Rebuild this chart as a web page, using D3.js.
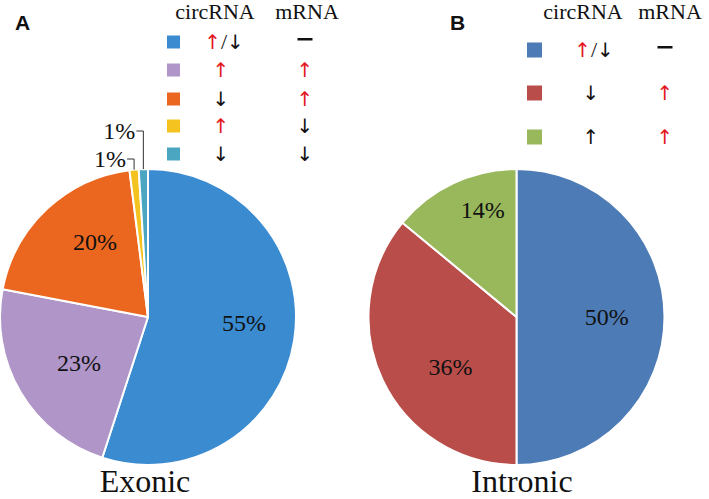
<!DOCTYPE html>
<html><head><meta charset="utf-8">
<script src="https://cdn.jsdelivr.net/npm/d3@7"></script>
<style>
html,body{margin:0;padding:0;background:#fff;}
svg{display:block;}
.serif{font-family:"Liberation Serif","Times New Roman",Times,"DejaVu Serif",serif;}
.arrow{font-family:"DejaVu Sans","Liberation Sans",sans-serif;}
.sans{font-family:"Liberation Sans",Arial,Helvetica,sans-serif;}
</style></head>
<body>
<svg id="chart" width="709" height="499"></svg>
<script>
// ---- data ----
const exonicLabels = ["55%", "23%", "20%", "1%", "1%"];
const exonicValues = [55, 23, 20, 1, 1];
const exonicCirc = [["up","/","down"], ["up"], ["down"], ["up"], ["down"]];
const exonicMrna = ["dash", "up", "up", "down", "down"];

const intronicLabels = ["50%", "36%", "14%"];
const intronicValues = [50, 36, 14];
const intronicCirc = [["up","/","down"], ["down"], ["upblack"]];
const intronicMrna = ["dash", "up", "up"];

const panelTitles = ["Exonic", "Intronic"];
const panelLetters = ["A", "B"];
const legendHeaders = ["circRNA", "mRNA"];

// ---- styles / layout ----
const exonicColors = ["#3a8bd0", "#b095c8", "#eb671f", "#f5c31f", "#4aa6c1"];
const intronicColors = ["#4d7bb5", "#b94d4a", "#99b75b"];
const RED = "#e3161e";

const panels = [
  { cx: 148, cy: 317, r: 148, values: exonicValues, labels: exonicLabels, colors: exonicColors,
    circ: exonicCirc, mrna: exonicMrna, title: panelTitles[0], letter: panelLetters[0],
    letterX: 15, titleX: 145,
    labelPlace: [[-5.5, 0.65], [-3, 0.56], [8, 0.62], {outY: 159}, {outY: 131}],
    legend: { sqX: 167, sqSize: 13, rows: [42, 70, 99, 126, 154], col1: 221, col2: 305, hdr1: 215, hdr2: 307 } },
  { cx: 516.5, cy: 317, r: 148, values: intronicValues, labels: intronicLabels, colors: intronicColors,
    circ: intronicCirc, mrna: intronicMrna, title: panelTitles[1], letter: panelLetters[1],
    letterX: 450, titleX: 522,
    labelPlace: [[0, 0.61], [-12, 0.56], [7.7, 0.76]],
    legend: { sqX: 527, sqSize: 15, rows: [50, 93, 137], col1: 591, col2: 665, hdr1: 583, hdr2: 670 } }
];

const svg = d3.select("#chart");

panels.forEach(p => {
  const g = svg.append("g").attr("transform", `translate(${p.cx},${p.cy})`);
  const pie = d3.pie().sort(null).value(d => d)(p.values);
  const arc = d3.arc().innerRadius(0).outerRadius(p.r);
  g.selectAll("path.slice").data(pie).join("path")
    .attr("class", "slice")
    .attr("d", arc)
    .attr("fill", (d, i) => p.colors[i])
    .attr("stroke", "#fff").attr("stroke-width", 2).attr("stroke-linejoin", "round");

  pie.forEach((d, i) => {
    const lp = p.labelPlace[i];
    const mid = (d.startAngle + d.endAngle) / 2;
    if (Array.isArray(lp)) {
      const a = mid + lp[0] * Math.PI / 180;
      const rr = p.r * lp[1];
      g.append("text").attr("class", "serif")
        .attr("x", rr * Math.sin(a)).attr("y", -rr * Math.cos(a))
        .attr("dy", "0.33em").attr("text-anchor", "middle")
        .style("font-size", "24px").attr("fill", "#111")
        .text(p.labels[i]);
    } else {
      const ex = p.r * Math.sin(mid), ey = -p.r * Math.cos(mid);
      const ly = lp.outY - p.cy;
      g.append("path")
        .attr("d", `M${ex},${ey}L${ex},${ly}L${ex - 7},${ly}`)
        .attr("fill", "none").attr("stroke", "#333").attr("stroke-width", 1);
      g.append("text").attr("class", "serif")
        .attr("x", ex - 8).attr("y", ly).attr("dy", "0.33em")
        .attr("text-anchor", "end")
        .style("font-size", "24px").attr("fill", "#111")
        .text(p.labels[i]);
    }
  });

  // title
  svg.append("text").attr("class", "serif").attr("x", p.titleX).attr("y", 492).attr("text-anchor", "middle")
    .style("font-size", "32px").attr("fill", "#111").text(p.title);
  // panel letter
  svg.append("text").attr("class", "sans").attr("x", p.letterX).attr("y", 30)
    .style("font-weight", "bold").style("font-size", "21px").attr("fill", "#111").text(p.letter);

  // legend
  const L = p.legend;
  svg.append("text").attr("class", "serif").attr("x", L.hdr1).attr("y", 19).attr("text-anchor", "middle")
    .style("font-size", "22px").attr("fill", "#111").text(legendHeaders[0]);
  svg.append("text").attr("class", "serif").attr("x", L.hdr2).attr("y", 19).attr("text-anchor", "middle")
    .style("font-size", "22px").attr("fill", "#111").text(legendHeaders[1]);

  L.rows.forEach((ry, i) => {
    svg.append("rect").attr("x", L.sqX).attr("y", ry - L.sqSize / 2)
      .attr("width", L.sqSize).attr("height", L.sqSize).attr("fill", p.colors[i]);
    // circRNA column
    const multi = p.circ[i].length > 1;
    const t = svg.append("text").attr("class", "arrow").attr("x", L.col1 + (multi ? 3 : 0)).attr("y", ry).attr("dy", "0.36em")
      .attr("text-anchor", "middle").style("font-size", "20px");
    p.circ[i].forEach(s => {
      const sp = t.append("tspan");
      if (s === "up") sp.attr("fill", RED).text("↑");
      else if (s === "upblack") sp.attr("fill", "#111").text("↑");
      else if (s === "down") sp.attr("fill", "#111").text("↓");
      else sp.attr("fill", "#111").attr("class", "serif").style("font-size", "22px").text("/");
    });
    // mRNA column
    const m = p.mrna[i];
    if (m === "dash") {
      svg.append("rect").attr("x", L.col2 - 7.5).attr("y", ry - 4).attr("width", 15).attr("height", 2.5).attr("fill", "#111");
    } else {
      svg.append("text").attr("class", "arrow").attr("x", L.col2).attr("y", ry).attr("dy", "0.36em")
        .attr("text-anchor", "middle").style("font-size", "20px")
        .attr("fill", m === "up" ? RED : "#111").text(m === "up" ? "↑" : "↓");
    }
  });
});
</script>
</body></html>
